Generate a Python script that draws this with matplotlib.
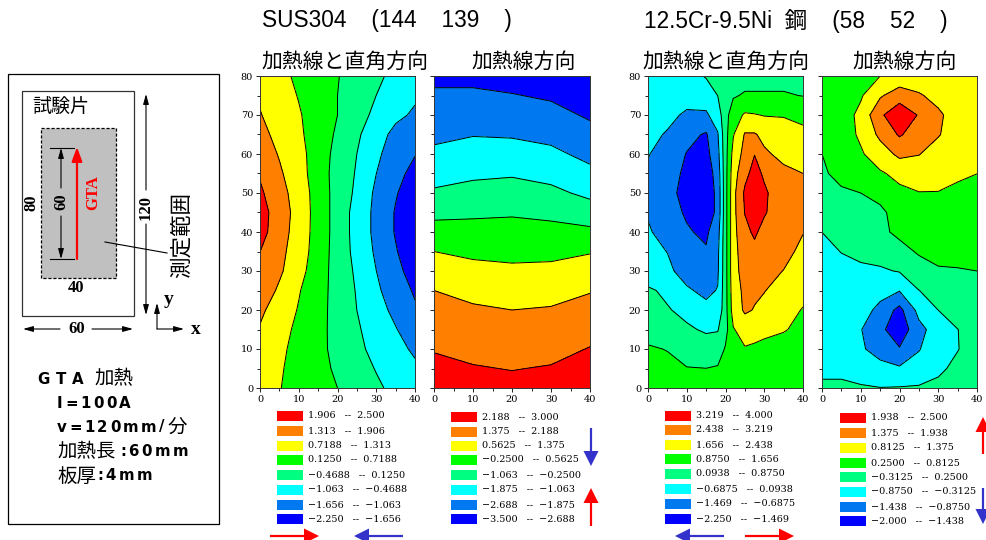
import numpy as np
import matplotlib
matplotlib.use("Agg")
import matplotlib.pyplot as plt
from matplotlib.patches import Rectangle, FancyArrow

plt.rcParams['font.family'] = ['Liberation Sans', 'Noto Sans CJK JP', 'DejaVu Sans']

# y rows run from 0 to 80 in every map
y_rows = [0, 5, 10, 15, 20, 25, 30, 35, 40, 45, 50, 55, 60, 65, 70, 75, 80]

x_sus_perp = [0, 5, 10, 15, 20, 25, 30, 35, 40]
sus_perp = [
    [0.94, 0.74, 0.53, 0.33, 0.125, -0.12, -0.37, -0.62, -0.87],
    [1.00, 0.77, 0.55, 0.29, 0.04, -0.22, -0.50, -0.73, -0.97],
    [1.10, 0.83, 0.55, 0.27, -0.03, -0.34, -0.63, -0.90, -1.15],
    [1.27, 0.93, 0.59, 0.28, -0.05, -0.40, -0.72, -1.03, -1.39],
    [1.42, 1.05, 0.68, 0.31, -0.07, -0.47, -0.84, -1.21, -1.58],
    [1.68, 1.22, 0.76, 0.34, -0.08, -0.51, -0.97, -1.34, -1.73],
    [1.88, 1.41, 0.92, 0.39, -0.10, -0.57, -1.06, -1.49, -1.91],
    [1.91, 1.48, 1.01, 0.45, -0.12, -0.65, -1.15, -1.61, -2.07],
    [2.12, 1.58, 1.05, 0.48, -0.11, -0.69, -1.21, -1.70, -2.20],
    [2.14, 1.63, 1.08, 0.48, -0.11, -0.69, -1.21, -1.70, -2.20],
    [2.00, 1.54, 1.03, 0.48, -0.11, -0.58, -1.18, -1.61, -2.00],
    [1.85, 1.40, 0.95, 0.43, -0.11, -0.52, -1.06, -1.46, -1.85],
    [1.65, 1.27, 0.92, 0.42, -0.05, -0.47, -0.96, -1.33, -1.63],
    [1.48, 1.15, 0.82, 0.44, 0.04, -0.38, -0.81, -1.23, -1.50],
    [1.34, 1.07, 0.77, 0.45, 0.125, -0.25, -0.60, -0.93, -1.15],
    [1.25, 0.97, 0.69, 0.40, 0.125, -0.17, -0.47, -0.72, -0.98],
    [1.20, 0.86, 0.62, 0.38, 0.15, -0.11, -0.37, -0.60, -0.85],
]
levels_sus_perp = [-2.25, -1.656, -1.063, -0.4688, 0.125, 0.7188, 1.313, 1.906, 2.5]
labels_sus_perp = ['1.906   --  2.500', '1.313   --  1.906', '0.7188   --  1.313', '0.1250   --  0.7188',
                   '−0.4688   --  0.1250', '−1.063   --  −0.4688', '−1.656   --  −1.063', '−2.250   --  −1.656']

x_sus_para = [0, 10, 20, 30, 40]
sus_para = [
    [2.65, 2.49, 2.42, 2.51, 2.80],
    [2.39, 2.24, 2.16, 2.24, 2.51],
    [2.14, 1.985, 1.90, 1.97, 2.22],
    [1.88, 1.73, 1.64, 1.70, 1.94],
    [1.63, 1.48, 1.375, 1.43, 1.64],
    [1.375, 1.15, 1.04, 1.13, 1.33],
    [0.97, 0.78, 0.70, 0.74, 0.93],
    [0.5625, 0.41, 0.36, 0.37, 0.51],
    [0.055, 0.02, 0.02, -0.02, -0.08],
    [-0.45, -0.38, -0.33, -0.43, -0.69],
    [-0.96, -0.81, -0.74, -0.88, -1.24],
    [-1.36, -1.20, -1.14, -1.31, -1.69],
    [-1.73, -1.56, -1.55, -1.71, -2.08],
    [-2.04, -1.91, -1.95, -2.08, -2.44],
    [-2.31, -2.24, -2.30, -2.44, -2.79],
    [-2.58, -2.56, -2.65, -2.79, -3.14],
    [-2.85, -2.88, -3.00, -3.14, -3.49],
]
levels_sus_para = [-3.5, -2.688, -1.875, -1.063, -0.25, 0.5625, 1.375, 2.188, 3.0]
labels_sus_para = ['2.188   --  3.000', '1.375   --  2.188', '0.5625   --  1.375', '−0.2500   --  0.5625',
                   '−1.063   --  −0.2500', '−1.875   --  −1.063', '−2.688   --  −1.875', '−3.500   --  −2.688']

x_cr_perp = [0, 5, 10, 15, 18, 20, 22, 25, 27.5, 30, 35, 40]
cr_perp = [
    [1.30, 1.30, 1.30, 1.30, 1.30, 1.30, 1.30, 1.30, 1.30, 1.30, 1.30, 1.30],
    [1.10, 1.05, 0.90, 0.88, 0.95, 1.10, 1.20, 1.30, 1.30, 1.30, 1.30, 1.30],
    [0.95, 0.85, 0.60, 0.45, 0.45, 0.95, 1.25, 1.60, 1.55, 1.50, 1.40, 1.30],
    [0.60, 0.40, 0.20, 0.00, 0.05, 0.60, 1.60, 2.00, 1.90, 1.80, 1.70, 1.50],
    [0.40, 0.15, -0.10, -0.50, -0.50, 0.60, 2.00, 2.55, 2.40, 2.20, 1.90, 1.62],
    [0.20, -0.05, -0.60, -0.85, -0.65, 0.60, 2.10, 2.60, 2.55, 2.47, 2.10, 1.85],
    [-0.35, -0.55, -0.95, -1.25, -0.80, 0.60, 2.20, 2.70, 2.65, 2.55, 2.43, 2.10],
    [-0.50, -0.70, -1.15, -1.40, -0.85, 0.60, 2.20, 2.80, 3.00, 2.65, 2.55, 2.35],
    [-0.60, -1.00, -1.40, -1.60, -1.00, 0.60, 2.20, 3.00, 3.35, 2.95, 2.55, 2.45],
    [-0.75, -1.20, -1.55, -2.00, -1.25, 0.60, 2.20, 3.25, 3.60, 3.30, 2.70, 2.55],
    [-0.90, -1.30, -1.65, -2.00, -1.25, 0.60, 2.20, 3.35, 3.70, 3.35, 2.70, 2.60],
    [-0.80, -1.20, -1.60, -1.90, -1.15, 0.60, 2.10, 3.00, 3.50, 3.10, 2.60, 2.44],
    [-0.65, -1.00, -1.50, -1.70, -0.95, 0.60, 1.90, 2.70, 3.20, 2.55, 2.25, 2.00],
    [-0.50, -0.75, -1.25, -1.55, -0.75, 0.60, 1.60, 2.50, 2.50, 2.25, 2.05, 1.80],
    [-0.40, -0.50, -0.80, -0.80, -0.30, 0.60, 1.30, 1.75, 1.70, 1.62, 1.60, 1.50],
    [-0.30, -0.35, -0.40, -0.30, 0.10, 0.55, 0.80, 0.95, 0.95, 0.95, 0.95, 0.85],
    [-0.20, -0.25, -0.20, 0.15, 0.30, 0.45, 0.55, 0.60, 0.60, 0.60, 0.60, 0.60],
]
levels_cr_perp = [-2.25, -1.469, -0.6875, 0.0938, 0.875, 1.656, 2.438, 3.219, 4.0]
labels_cr_perp = ['3.219   --  4.000', '2.438   --  3.219', '1.656   --  2.438', '0.8750   --  1.656',
                  '0.0938   --  0.8750', '−0.6875   --  0.0938', '−1.469   --  −0.6875', '−2.250   --  −1.469']

x_cr_para = [0, 5, 10, 15, 20, 25, 30, 35, 40]
cr_para = [
    [-0.20, -0.20, -0.26, -0.30, -0.28, -0.25, -0.20, -0.10, 0.00],
    [-0.45, -0.45, -0.55, -0.70, -0.80, -0.70, -0.40, -0.20, -0.05],
    [-0.50, -0.55, -0.80, -1.10, -1.40, -0.90, -0.60, -0.33, -0.10],
    [-0.55, -0.55, -0.85, -1.30, -1.80, -1.05, -0.60, -0.32, -0.10],
    [-0.55, -0.55, -0.60, -1.05, -1.60, -0.70, -0.31, -0.10, 0.00],
    [-0.55, -0.55, -0.55, -0.65, -0.85, -0.32, -0.10, 0.05, 0.10],
    [-0.50, -0.45, -0.40, -0.38, -0.28, 0.05, 0.20, 0.22, 0.25],
    [-0.45, -0.30, -0.20, -0.10, 0.10, 0.30, 0.40, 0.40, 0.38],
    [-0.31, -0.10, 0.00, 0.15, 0.35, 0.50, 0.45, 0.45, 0.45],
    [0.00, 0.10, 0.15, 0.15, 0.45, 0.50, 0.50, 0.50, 0.50],
    [0.10, 0.20, 0.25, 0.40, 0.70, 0.80, 0.80, 0.70, 0.65],
    [0.20, 0.35, 0.60, 0.75, 0.95, 1.00, 0.95, 0.90, 0.815],
    [0.25, 0.55, 0.75, 1.10, 1.50, 1.40, 1.10, 0.95, 0.90],
    [0.35, 0.55, 0.90, 1.50, 2.00, 1.65, 1.42, 1.05, 0.95],
    [0.40, 0.55, 0.95, 1.85, 2.30, 1.90, 1.50, 1.05, 0.95],
    [0.45, 0.55, 0.75, 1.30, 1.70, 1.45, 1.15, 1.00, 0.95],
    [0.40, 0.50, 0.65, 0.81, 0.95, 0.95, 0.95, 0.95, 0.95],
]
levels_cr_para = [-2.0, -1.438, -0.875, -0.3125, 0.25, 0.8125, 1.375, 1.938, 2.5]
labels_cr_para = ['1.938   --  2.500', '1.375   --  1.938', '0.8125   --  1.375', '0.2500   --  0.8125',
                  '−0.3125   --  0.2500', '−0.8750   --  −0.3125', '−1.438   --  −0.8750', '−2.000   --  −1.438']

band_colors = ['#0000ff', '#0078f0', '#00ffff', '#00ff80', '#00ff00', '#ffff00', '#ff8000', '#ff0000']

W, H = 986, 540
fig = plt.figure(figsize=(W / 100, H / 100), dpi=100)

# overlay in pixel coordinates for the sketch, legends and arrows
ov = fig.add_axes([0, 0, 1, 1], zorder=5)
ov.set_xlim(0, W)
ov.set_ylim(H, 0)
ov.axis('off')


def contour_panel(x, z, levels, left, right, show_y=True):
    ax = fig.add_axes([left / W, 1 - 388 / H, (right - left) / W, (388 - 76) / H])
    ax.contourf(x, y_rows, z, levels=levels, colors=band_colors)
    ax.contour(x, y_rows, z, levels=levels[1:-1], colors='black', linewidths=0.7, linestyles='solid')
    ax.set_xlim(0, 40)
    ax.set_ylim(0, 80)
    ax.set_xticks([0, 10, 20, 30, 40])
    ax.set_yticks(np.arange(0, 81, 10))
    ax.set_xticks(np.arange(0, 41, 5), minor=True)
    ax.set_yticks(np.arange(0, 81, 5), minor=True)
    ax.tick_params(which='major', length=3, width=0.6, labelsize=7, pad=2, labelleft=show_y)
    ax.tick_params(which='minor', length=2, width=0.6)
    for lab in ax.get_xticklabels() + ax.get_yticklabels():
        lab.set_family('DejaVu Serif')
    for s in ax.spines.values():
        s.set_linewidth(0.7)
        s.set_color('#333333')
    return ax


def legend_column(labels, swatch_left, rows):
    for lab, yc, col in zip(labels, rows, band_colors[::-1]):
        ov.add_patch(Rectangle((swatch_left, yc - 5), 26, 10, fc=col, ec='none'))
        ov.text(swatch_left + 31, yc, lab, fontsize=6.9, family='DejaVu Serif', va='center', ha='left')


def big_arrow(x0, y0, x1, y1, col):
    ov.add_patch(FancyArrow(x0, y0, x1 - x0, y1 - y0, width=2.2, head_width=15, head_length=15,
                            length_includes_head=True, fc=col, ec='none'))


contour_panel(x_sus_perp, sus_perp, levels_sus_perp, 260, 415)
contour_panel(x_sus_para, sus_para, levels_sus_para, 434, 590, show_y=False)
contour_panel(x_cr_perp, cr_perp, levels_cr_perp, 648, 803)
contour_panel(x_cr_para, cr_para, levels_cr_para, 822, 977, show_y=False)

legend_column(labels_sus_perp, 277, [416, 431, 446, 460, 475, 490, 505, 519])
legend_column(labels_sus_para, 451, [417, 432, 446, 460, 475, 490, 505, 519])
legend_column(labels_cr_perp, 665, [416, 430, 445, 459, 474, 489, 504, 519])
legend_column(labels_cr_para, 840, [418, 433, 448, 463, 477, 492, 507, 521])

blue_arrow = '#3333cc'
red_arrow = '#ff0000'
big_arrow(270, 536, 319, 536, red_arrow)
big_arrow(403, 536, 354, 536, blue_arrow)
big_arrow(591, 428, 591, 466, blue_arrow)
big_arrow(591, 526, 591, 488, red_arrow)
big_arrow(724, 536, 675, 536, blue_arrow)
big_arrow(745, 536, 794, 536, red_arrow)
big_arrow(983, 454, 983, 417, red_arrow)
big_arrow(983, 488, 983, 524, blue_arrow)

# headings
ov.text(262, 21, 'SUS304    (144    139    )', fontsize=16.3, va='center')
ov.text(644, 21, '12.5Cr-9.5Ni  鋼    (58    52    )', fontsize=16.3, va='center')
ov.text(345, 62, '加熱線と直角方向', fontsize=15, ha='center', va='center')
ov.text(524, 62, '加熱線方向', fontsize=15, ha='center', va='center')
ov.text(726, 62, '加熱線と直角方向', fontsize=15, ha='center', va='center')
ov.text(905, 62, '加熱線方向', fontsize=15, ha='center', va='center')

# specimen sketch on the left
ov.add_patch(Rectangle((8, 74), 211, 450, fc='none', ec='black', lw=0.9))
ov.add_patch(Rectangle((22, 91), 112, 225, fc='white', ec='#333333', lw=0.9))
ov.add_patch(Rectangle((41, 128), 75, 150, fc='#c0c0c0', ec='black', lw=0.9, ls=(0, (2.5, 1.5))))
ov.text(32, 108, '試験片', fontsize=13.7, va='center')


def dim_line(x0, y0, x1, y1):
    ov.annotate('', xy=(x1, y1), xytext=(x0, y0),
                arrowprops=dict(arrowstyle='-|>,head_length=0.5,head_width=0.14', color='black', lw=0.8,
                                shrinkA=0, shrinkB=0, mutation_scale=12))


def sketch_num(x, y, s, rot=0, col='black', fs=12):
    ov.text(x, y, s, fontsize=fs, family='Liberation Serif', weight='bold', color=col,
            rotation=rot, ha='center', va='center')


ov.plot([50, 74], [148, 148], color='black', lw=0.8)
ov.plot([50, 74], [259, 259], color='black', lw=0.8)
dim_line(61, 188, 61, 148)
dim_line(61, 216, 61, 259)
sketch_num(61, 202, '60', rot=90)
ov.annotate('', xy=(77, 147), xytext=(77, 259),
            arrowprops=dict(arrowstyle='-|>,head_length=0.6,head_width=0.22', color='red', lw=1.6,
                            shrinkA=0, shrinkB=0, mutation_scale=14))
sketch_num(93, 193, 'GTA', rot=90, col='red', fs=12)
sketch_num(32, 203, '80', rot=90)
sketch_num(76, 288, '40')
ov.plot([105, 167], [242, 253], color='black', lw=0.8)
ov.text(182, 235, '測定範囲', fontsize=15.5, rotation=90, ha='center', va='center')
dim_line(146, 190, 146, 94)
dim_line(146, 224, 146, 315)
sketch_num(146, 207, '120', rot=90)
dim_line(60, 329, 23, 329)
dim_line(92, 329, 133, 329)
sketch_num(77, 329, '60')
dim_line(157, 329, 157, 303)
dim_line(157, 329, 184, 329)
sketch_num(169, 300, 'y', fs=14)
sketch_num(196, 329, 'x', fs=14)


# heating conditions, the bold latin is letterspaced in the original
def tracked(x, y, s, track=2.5):
    for ch in s:
        t = ov.text(x, y, ch, fontsize=10.8, family='DejaVu Sans', weight='bold', va='center')
        x += t.get_window_extent(fig.canvas.get_renderer()).width + track


kanji_kw = dict(fontsize=14, family='Noto Sans CJK JP', va='center')
tracked(37, 379, 'GTA', track=6)
ov.text(94, 379, '加熱', **kanji_kw)
tracked(57, 403, 'I=100A')
tracked(57, 427, 'v=120mm/')
ov.text(168, 427, '分', **kanji_kw)
ov.text(57, 452, '加熱長', **kanji_kw)
tracked(120, 452, ':60mm')
ov.text(57, 476, '板厚', **kanji_kw)
tracked(97, 476, ':4mm')

fig.savefig('out.png', dpi=100)
